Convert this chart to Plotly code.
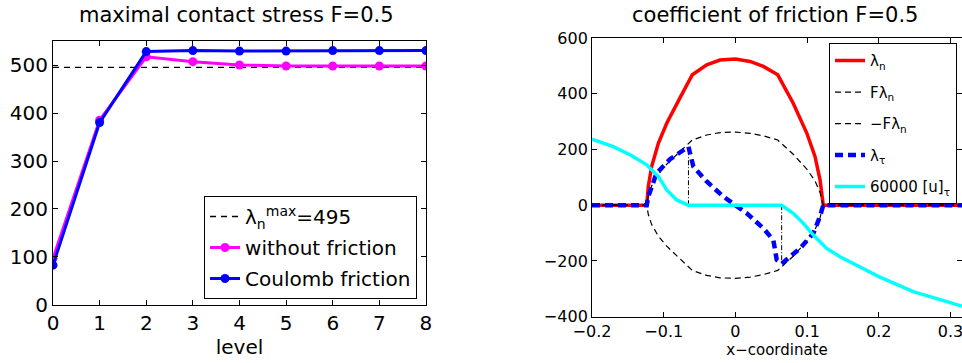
import plotly.graph_objects as go

# ---- left panel: maximal contact stress per refinement level ----
levels = [0, 1, 2, 3, 4, 5, 6, 7, 8]
stress_no_friction = [97, 385, 517, 507, 500, 498, 498, 498, 498]
stress_coulomb = [83, 380, 528, 530, 529, 529, 530, 530, 530]
lam_max = 495

# ---- right panel: contact quantities along the boundary ----
F = 0.5
x_n = [-0.2, -0.1237, -0.1215, -0.1168, -0.1075, -0.0958, -0.0773, -0.0601,
       -0.04, -0.0215, 0.0, 0.0204, 0.039, 0.059, 0.0806, 0.0995, 0.111,
       0.118, 0.1225, 0.316]
lam_n = [0, 0, 67, 139, 222, 294, 385, 468, 504, 521, 525, 516, 498, 468,
         366, 259, 175, 91, 0, 0]

x_t = [-0.2, -0.1237, -0.1215, -0.11, -0.0912, -0.0727, -0.0655, -0.0587,
       -0.04, -0.0169, 0.0, 0.0158, 0.039, 0.0529, 0.0576, 0.0645, 0.09,
       0.1087, 0.118, 0.1225, 0.316]
lam_t = [0, 0, 31, 115, 165, 200, 210, 139, 85, 31, 0, -29, -83, -125, -196,
         -210, -155, -101, -40, 0, 0]

x_u = [-0.2, -0.1888, -0.1703, -0.147, -0.1237, -0.1075, -0.0958, -0.0819,
       -0.0657, 0.0645, 0.0806, 0.0948, 0.1087, 0.1273, 0.1459, 0.2, 0.248,
       0.3147, 0.316]
u_t_scaled = [237, 228, 210, 181, 145, 103, 55, 19, 0, 0, -29, -65, -107,
              -155, -185, -256, -310, -361, -362]

# stick/slip transition markers
x_stick = [-0.0655, -0.0655, None, 0.0645, 0.0645]
y_stick = [0, 210, None, 0, -208]

F_lam_n = [F * v for v in lam_n]
mF_lam_n = [-F * v for v in lam_n]

FONT = "DejaVu Sans, Arial, sans-serif"

fig = go.Figure()

# left panel traces
fig.add_trace(go.Scatter(
    x=levels, y=[lam_max] * len(levels), mode="lines",
    line=dict(color="black", width=1.3, dash="6px,5px"),
    name="λ<sub>n</sub><sup>max</sup>=495", xaxis="x", yaxis="y",
    legend="legend", legendgroup="a"))
fig.add_trace(go.Scatter(
    x=levels, y=stress_no_friction, mode="lines+markers",
    line=dict(color="#ff00ff", width=3), marker=dict(size=9, color="#ff00ff"),
    name="without friction", xaxis="x", yaxis="y",
    legend="legend", legendgroup="b"))
fig.add_trace(go.Scatter(
    x=levels, y=stress_coulomb, mode="lines+markers",
    line=dict(color="#0000ff", width=3), marker=dict(size=9, color="#0000ff"),
    name="Coulomb friction", xaxis="x", yaxis="y",
    legend="legend", legendgroup="c"))

# right panel traces
fig.add_trace(go.Scatter(
    x=x_stick, y=y_stick, mode="lines",
    line=dict(color="black", width=1, dash="5px,2px,1px,2px"),
    showlegend=False, xaxis="x2", yaxis="y2"))
fig.add_trace(go.Scatter(
    x=x_n, y=lam_n, mode="lines", line=dict(color="#ff0000", width=3.5),
    name="λ<sub>n</sub>", xaxis="x2", yaxis="y2",
    legend="legend2", legendgroup="r1"))
fig.add_trace(go.Scatter(
    x=x_n, y=F_lam_n, mode="lines",
    line=dict(color="black", width=1.2, dash="6px,4px"),
    name="Fλ<sub>n</sub>", xaxis="x2", yaxis="y2",
    legend="legend2", legendgroup="r2"))
fig.add_trace(go.Scatter(
    x=x_n, y=mF_lam_n, mode="lines",
    line=dict(color="black", width=1.2, dash="6px,4px"),
    name="−Fλ<sub>n</sub>", xaxis="x2", yaxis="y2",
    legend="legend2", legendgroup="r3"))
fig.add_trace(go.Scatter(
    x=x_t, y=lam_t, mode="lines",
    line=dict(color="#0000ff", width=4.5, dash="8px,5px"),
    name="λ<sub>τ</sub>", xaxis="x2", yaxis="y2",
    legend="legend2", legendgroup="r4"))
fig.add_trace(go.Scatter(
    x=x_u, y=u_t_scaled, mode="lines", line=dict(color="#00ffff", width=3.5),
    name="60000 [u]<sub>τ</sub>", xaxis="x2", yaxis="y2",
    legend="legend2", legendgroup="r5"))

axis_common = dict(showline=True, linecolor="black", linewidth=1,
                   mirror="ticks", ticks="inside", ticklen=5,
                   tickcolor="black", showgrid=False, zeroline=False,
                   automargin=False, ticklabeloverflow="allow")

fig.update_layout(
    width=962, height=363,
    margin=dict(l=0, r=0, t=0, b=0),
    paper_bgcolor="white", plot_bgcolor="white",
    font=dict(family=FONT, color="black"),
    xaxis=dict(domain=[0.0551, 0.4428], range=[0, 8], tickvals=levels,
               tickfont=dict(size=20), anchor="y",
               title=dict(text="level", font=dict(size=20), standoff=0),
               **axis_common),
    yaxis=dict(domain=[0.1598, 0.887], range=[0, 550],
               tickvals=[0, 100, 200, 300, 400, 500],
               tickfont=dict(size=20), anchor="x", **axis_common),
    xaxis2=dict(domain=[0.6154, 1.0], range=[-0.2, 0.316],
                tickvals=[-0.2, -0.1, 0, 0.1, 0.2, 0.3],
                ticktext=["−0.2", "−0.1", "0", "0.1", "0.2", "0.3"],
                tickfont=dict(size=16), anchor="y2",
                title=dict(text="x−coordinate", font=dict(size=15), standoff=0),
                **axis_common),
    yaxis2=dict(domain=[0.1276, 0.8953], range=[-400, 600],
                tickvals=[-400, -200, 0, 200, 400, 600],
                tickfont=dict(size=16), anchor="x2", **axis_common),
    legend=dict(x=0.4335, xanchor="right", y=0.1763, yanchor="bottom",
                bgcolor="white", bordercolor="black", borderwidth=1,
                font=dict(size=20), traceorder="grouped", tracegroupgap=2,
                itemwidth=30),
    legend2=dict(x=0.9948, xanchor="right", y=0.8807, yanchor="top",
                 bgcolor="white", bordercolor="black", borderwidth=1,
                 font=dict(size=15), traceorder="grouped", tracegroupgap=9,
                 itemwidth=30),
)
# panel titles, placed in pixels from the top of the figure
fig.add_annotation(text="maximal contact stress F=0.5", x=236 / 962,
                   y=1 - 15 / 363, xref="paper", yref="paper",
                   showarrow=False, font=dict(size=21),
                   xanchor="center", yanchor="middle")
fig.add_annotation(text="coefficient of friction F=0.5", x=775 / 962,
                   y=1 - 15 / 363, xref="paper", yref="paper",
                   showarrow=False, font=dict(size=21),
                   xanchor="center", yanchor="middle")

fig.write_html("out.html")
